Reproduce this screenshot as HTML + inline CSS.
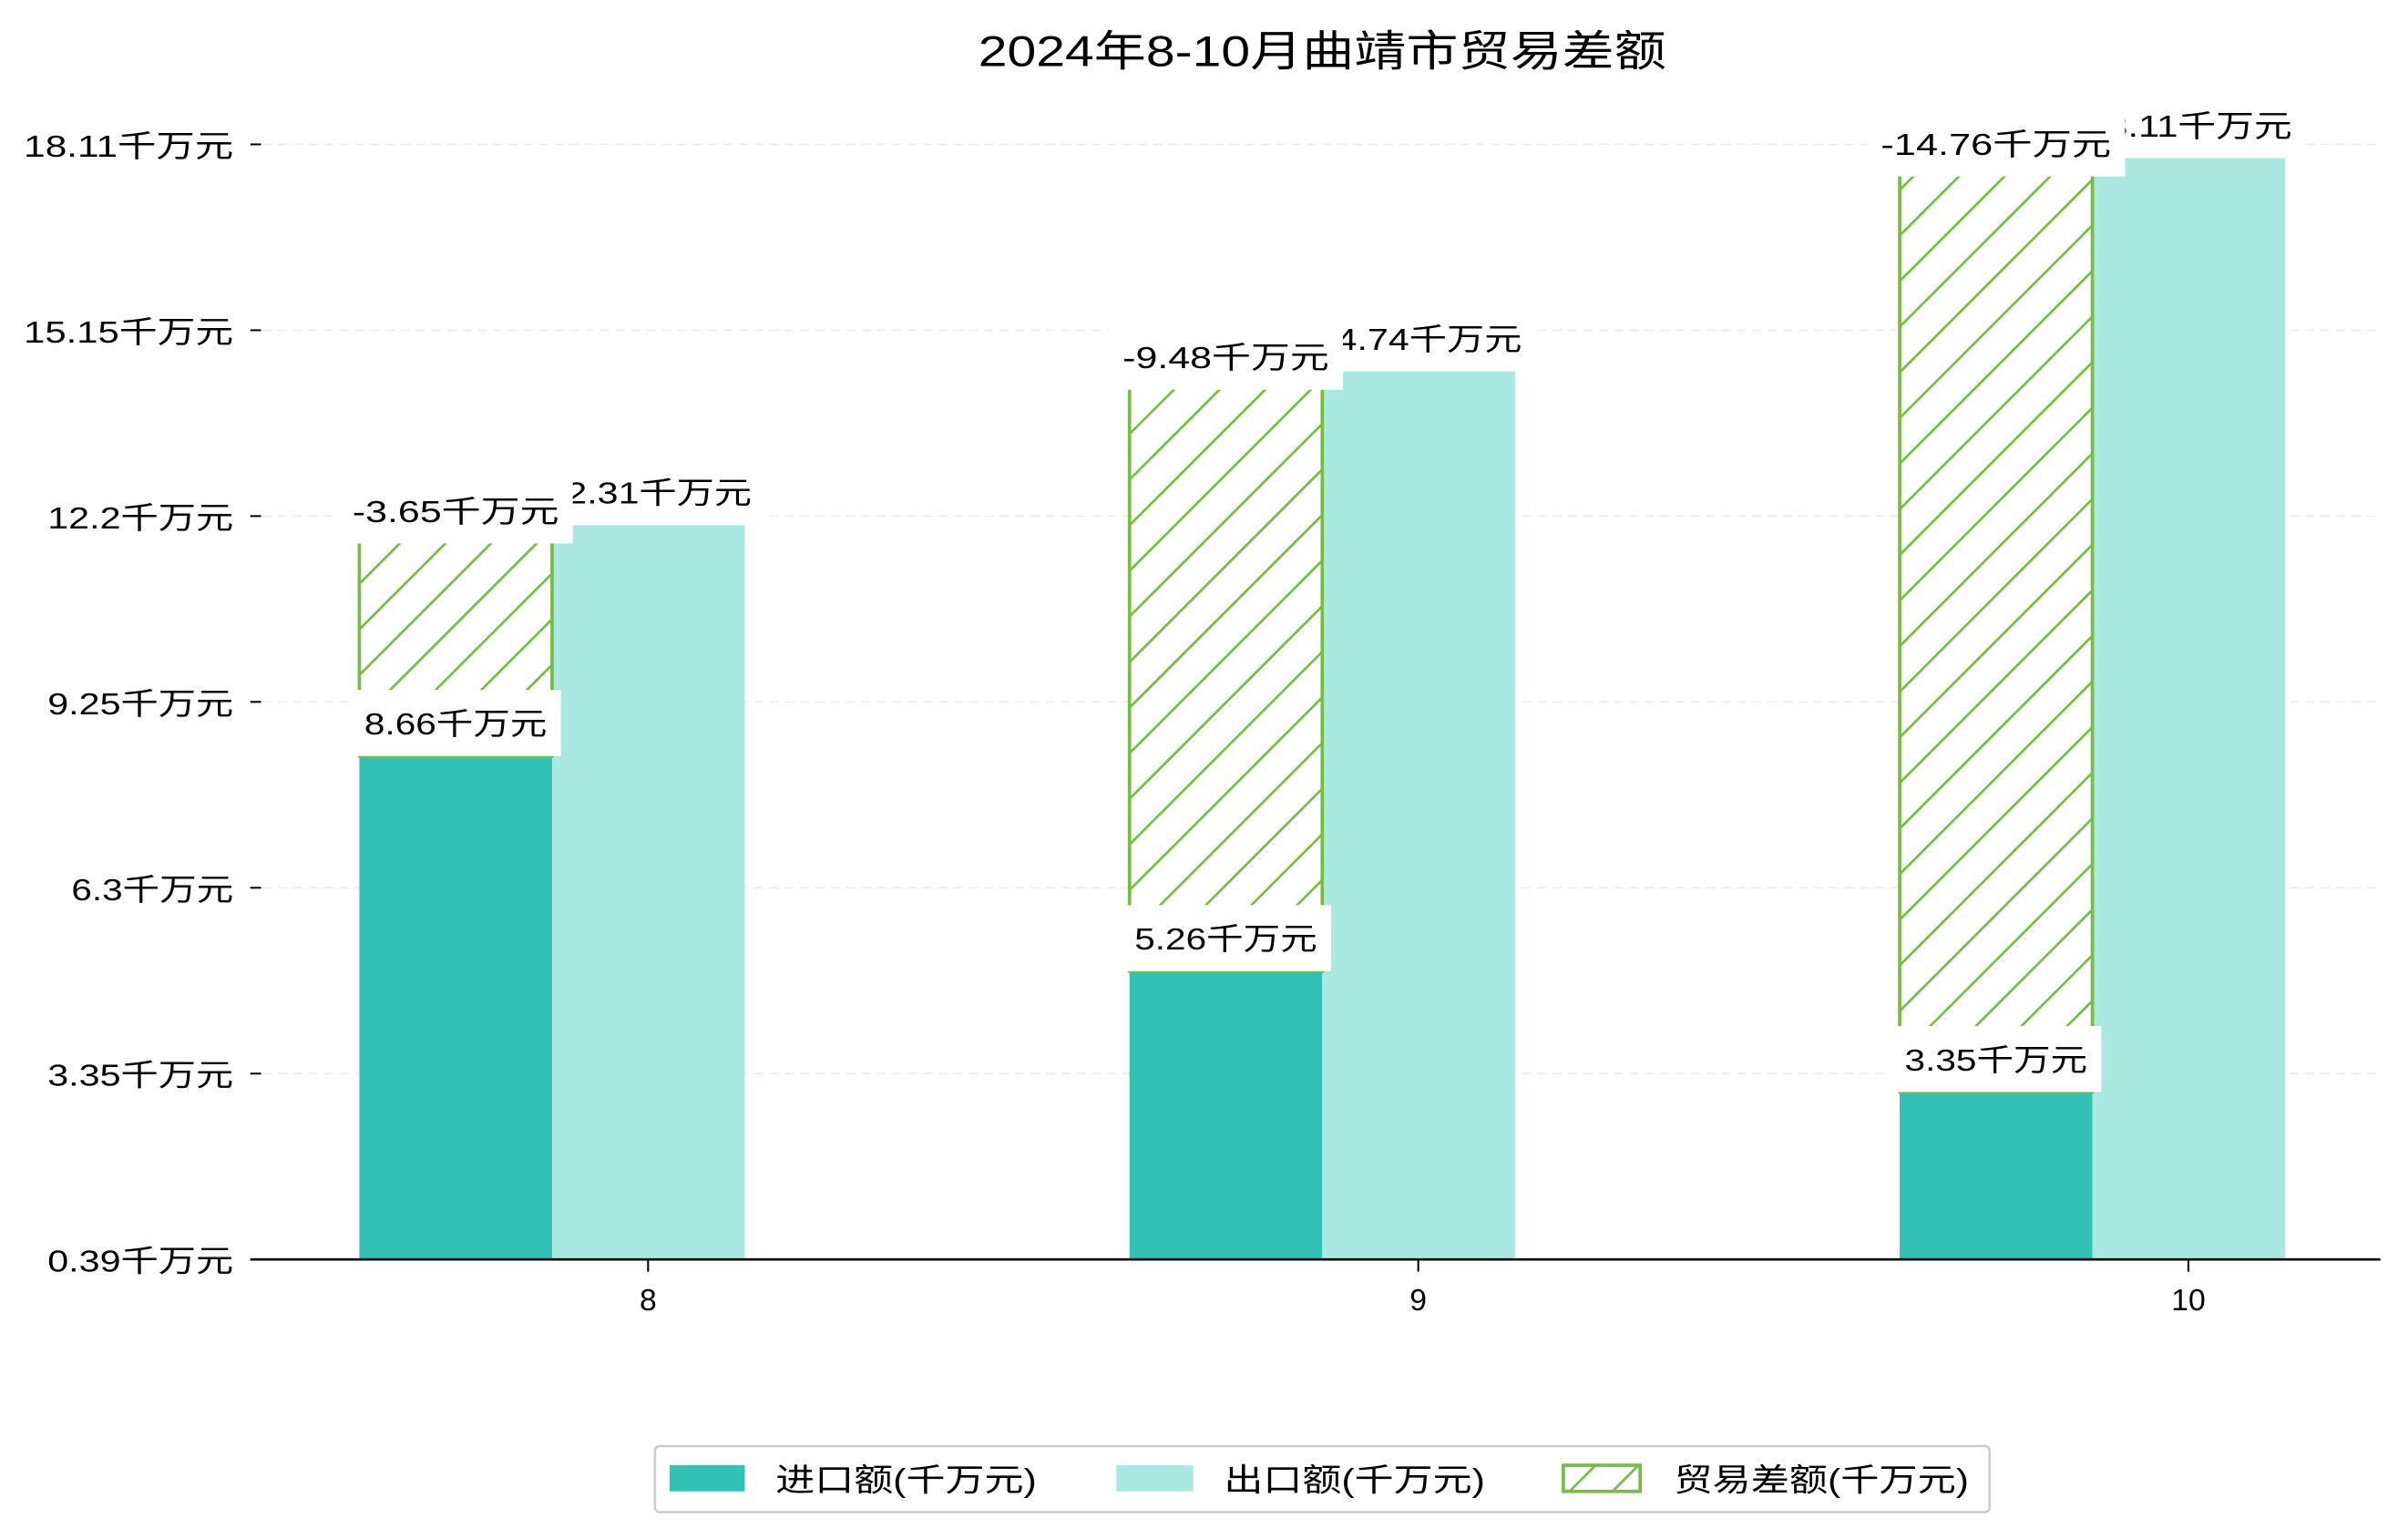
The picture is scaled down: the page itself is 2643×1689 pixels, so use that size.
<!DOCTYPE html>
<html><head><meta charset="utf-8"><style>
html,body{margin:0;padding:0;background:#fff;}
svg{display:block;}
text{font-family:"Liberation Sans","Noto Sans CJK SC",sans-serif;fill:#000;}
</style></head><body>
<svg id="chart" width="2643" height="1689" viewBox="0 0 1568 1002" xmlns="http://www.w3.org/2000/svg">
<defs id="defs">
<clipPath id="legclip"><rect x="1018" y="954" width="50" height="17"/></clipPath>
</defs>
<rect x="0" y="0" width="1568" height="1002" fill="#fff"/>
<text x="861" y="43" font-size="28" text-anchor="middle" textLength="448" lengthAdjust="spacingAndGlyphs">2024年8-10月曲靖市贸易差额</text>
<g id="grid"></g>
<g id="bars"></g>
<g id="labels"></g>
<g id="axes"></g>
<g>
<rect x="426.5" y="941.5" width="869" height="43" rx="3" fill="#fff" stroke="#cccccc" stroke-width="1.5"/>
<rect x="436" y="954" width="49" height="17" fill="#31c1b5"/>
<text x="505" y="971" font-size="21" textLength="170" lengthAdjust="spacingAndGlyphs">进口额(千万元)</text>
<rect x="727" y="954" width="50" height="17" fill="#aae8e2"/>
<text x="797" y="971" font-size="21" textLength="170" lengthAdjust="spacingAndGlyphs">出口额(千万元)</text>
<g>
<g clip-path="url(#legclip)" stroke="#76bd43" stroke-width="1.6">
<line x1="1017" y1="976" x2="1041" y2="952"/>
<line x1="1045" y1="976" x2="1069" y2="952"/>
</g>
<rect x="1018" y="954" width="50" height="17" fill="none" stroke="#76bd43" stroke-width="2.2"/>
</g>
<text x="1090" y="971" font-size="21" textLength="192" lengthAdjust="spacingAndGlyphs">贸易差额(千万元)</text>
</g>
</svg>
<script>
const categories = ['8', '9', '10'];
const importValues = [8.66, 5.26, 3.35];
const exportValues = [12.31, 14.74, 18.11];
const balanceValues = [-3.65, -9.48, -14.76];
const yTickLabels = ['0.39', '3.35', '6.3', '9.25', '12.2', '15.15', '18.11'];

const NS = 'http://www.w3.org/2000/svg';
const plotLeft = 163, plotRight = 1550, axisY = 820, tickTop = 94;
const zeroY = 849, pxPerUnit = 41.2;
const hatchStep = 29.7;
function yScale(v) { return zeroY - v * pxPerUnit; }
function xCenter(i) { return 422 + i * 501.5; }
const barW = 125.5;
function mk(tag, attrs, parent) {
  const e = document.createElementNS(NS, tag);
  for (const k in attrs) e.setAttribute(k, attrs[k]);
  parent.appendChild(e);
  return e;
}
function labelWidth(s) {
  const num = s.replace('千万元', '');
  return num.length * 15.5 + 3 * 19;
}
const defs = document.getElementById('defs');
const grid = document.getElementById('grid');
const axes = document.getElementById('axes');
const bars = document.getElementById('bars');
const labels = document.getElementById('labels');

yTickLabels.forEach((t, i) => {
  const y = axisY - i * (axisY - tickTop) / (yTickLabels.length - 1);
  if (i > 0) {
    const g = mk('line', {x1: plotLeft + 8, x2: plotRight, y1: y, y2: y, stroke: '#ececec', 'stroke-width': 1, 'stroke-dasharray': '6,4'}, grid);
    
    
  }
  const tk = mk('line', {x1: plotLeft, x2: plotLeft + 7, y1: y, y2: y, stroke: '#000', 'stroke-width': 1.2}, axes);
  
  
  const s = t + '千万元';
  const tx = mk('text', {x: 152, y: y + 8, 'font-size': 20, 'text-anchor': 'end', textLength: labelWidth(s) + 2, lengthAdjust: 'spacingAndGlyphs'}, axes);
  tx.textContent = s;
  
  
});

categories.forEach((c, i) => {
  const cx = xCenter(i);
  const ix = cx - 188, ex = cx - 62.5;
  const iTop = yScale(importValues[i]);
  const eTop = yScale(exportValues[i]);
  const dTop = iTop - Math.abs(balanceValues[i]) * pxPerUnit;

  const ib = mk('rect', {x: ix, y: iTop, width: barW, height: axisY - iTop, fill: '#31c1b5'}, bars);
  
  
  const eb = mk('rect', {x: ex, y: eTop, width: barW, height: axisY - eTop, fill: '#aae8e2'}, bars);
  
  

  const cp = mk('clipPath', {id: 'clip' + i}, defs);
  mk('rect', {x: ix, y: dTop, width: barW, height: iTop - dTop}, cp);
  const dg = mk('g', {}, bars);
  
  
  mk('rect', {x: ix, y: dTop, width: barW, height: iTop - dTop, fill: '#fff'}, dg);
  const hg = mk('g', {'clip-path': 'url(#clip' + i + ')', stroke: '#76bd43', 'stroke-width': 1.6}, dg);
  for (let y0 = iTop + barW; y0 > dTop; y0 -= hatchStep) {
    mk('line', {x1: ix, y1: y0, x2: ix + barW, y2: y0 - barW}, hg);
  }
  mk('rect', {x: ix, y: dTop, width: barW, height: iTop - dTop, fill: 'none', stroke: '#76bd43', 'stroke-width': 2.2}, dg);

  const addLabel = (val, cxl, cy, name) => {
    const s = val.toFixed(2).replace(/0$/, '').replace(/\.$/, '') + '千万元';
    const w = labelWidth(s);
    const bg = mk('rect', {x: cxl - w / 2 - 9, y: cy - 21, width: w + 18, height: 43, fill: '#fff'}, labels);
    
    
    const t = mk('text', {x: cxl, y: cy + 8, 'font-size': 20, 'text-anchor': 'middle', textLength: w, lengthAdjust: 'spacingAndGlyphs'}, labels);
    t.textContent = s;
    
    
  };
  addLabel(exportValues[i], ex + barW / 2, eTop - 22, 'export-label-' + c);
  addLabel(importValues[i], ix + barW / 2, iTop - 22, 'import-label-' + c);
  addLabel(balanceValues[i], ix + barW / 2, dTop - 10, 'balance-label-' + c);

  const xt = mk('line', {x1: cx, x2: cx, y1: axisY, y2: axisY + 8, stroke: '#000', 'stroke-width': 1.2}, axes);
  
  
  const xl = mk('text', {x: cx, y: 853, 'font-size': 20, 'text-anchor': 'middle'}, axes);
  xl.textContent = c;
  
  
});
const cover = mk('rect', {x: plotLeft, y: axisY, width: plotRight - plotLeft, height: 30, fill: '#fff'}, bars);


const ax = mk('line', {x1: plotLeft, x2: plotRight, y1: axisY, y2: axisY, stroke: '#000', 'stroke-width': 1.6}, axes);


</script>
</body></html>
